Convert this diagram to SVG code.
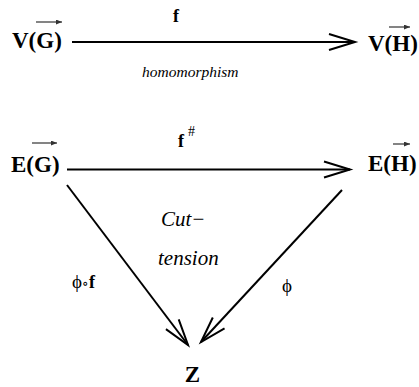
<svg xmlns="http://www.w3.org/2000/svg" width="419" height="387" viewBox="0 0 419 387">
<style>
text{font-family:'Liberation Serif','Times New Roman',Times,'Nimbus Roman','DejaVu Serif',serif;fill:#000}
.lbl{font-weight:bold;font-size:23px}
.fl{font-weight:bold;font-size:18px}
.it{font-style:italic}
.sym{font-size:19px}
.edge{stroke:#000;stroke-width:2;fill:none}
.vec{stroke:#333;stroke-width:1.2;fill:none}
</style>
<defs>
<marker id="open" markerUnits="userSpaceOnUse" markerWidth="30" markerHeight="20" refX="26" refY="8" orient="auto" overflow="visible">
<path d="M0,0 L26,8 L0,16" fill="none" stroke="#000" stroke-width="2"/>
</marker>
<marker id="small" markerUnits="userSpaceOnUse" markerWidth="8" markerHeight="6" refX="6" refY="2.5" orient="auto">
<path d="M0,0 L6,2.5 L0,5 Z" fill="#333"/>
</marker>
</defs>
<g id="VG"><text class="lbl" x="12" y="48">V(G)</text><line class="vec" x1="36" y1="22" x2="62" y2="22" marker-end="url(#small)"/></g>
<g id="VH"><text class="lbl" x="368" y="51">V(H)</text><line class="vec" x1="389" y1="27" x2="410" y2="27" marker-end="url(#small)"/></g>
<g id="EG"><text class="lbl" x="11" y="172">E(G)</text><line class="vec" x1="32" y1="143" x2="57" y2="143" marker-end="url(#small)"/></g>
<g id="EH"><text class="lbl" x="368" y="171">E(H)</text><line class="vec" x1="393" y1="144" x2="410" y2="144" marker-end="url(#small)"/></g>
<g id="Z"><text class="lbl" x="192.5" y="382" text-anchor="middle">Z</text></g>
<g id="connectors">
<line class="edge" x1="72" y1="42" x2="355" y2="42" marker-end="url(#open)"/>
<line class="edge" x1="67" y1="169.5" x2="350" y2="169.5" marker-end="url(#open)"/>
<line class="edge" x1="67" y1="185" x2="188" y2="345" marker-end="url(#open)"/>
<line class="edge" x1="342" y1="190" x2="201" y2="342" marker-end="url(#open)"/>
</g>
<g id="labels">
<text class="fl" x="173" y="22">f</text>
<text class="it" x="142" y="77" font-size="15.5">homomorphism</text>
<text class="fl" x="178" y="147">f</text>
<text x="188" y="136" font-size="14">#</text>
<text class="it" x="161" y="226" font-size="21">Cut−</text>
<text class="it" x="158" y="265" font-size="21">tension</text>
<text x="72" y="288"><tspan class="sym">ϕ</tspan><tspan font-size="14">∘</tspan><tspan class="fl">f</tspan></text>
<text class="sym" x="282" y="292">ϕ</text>
</g>
</svg>
